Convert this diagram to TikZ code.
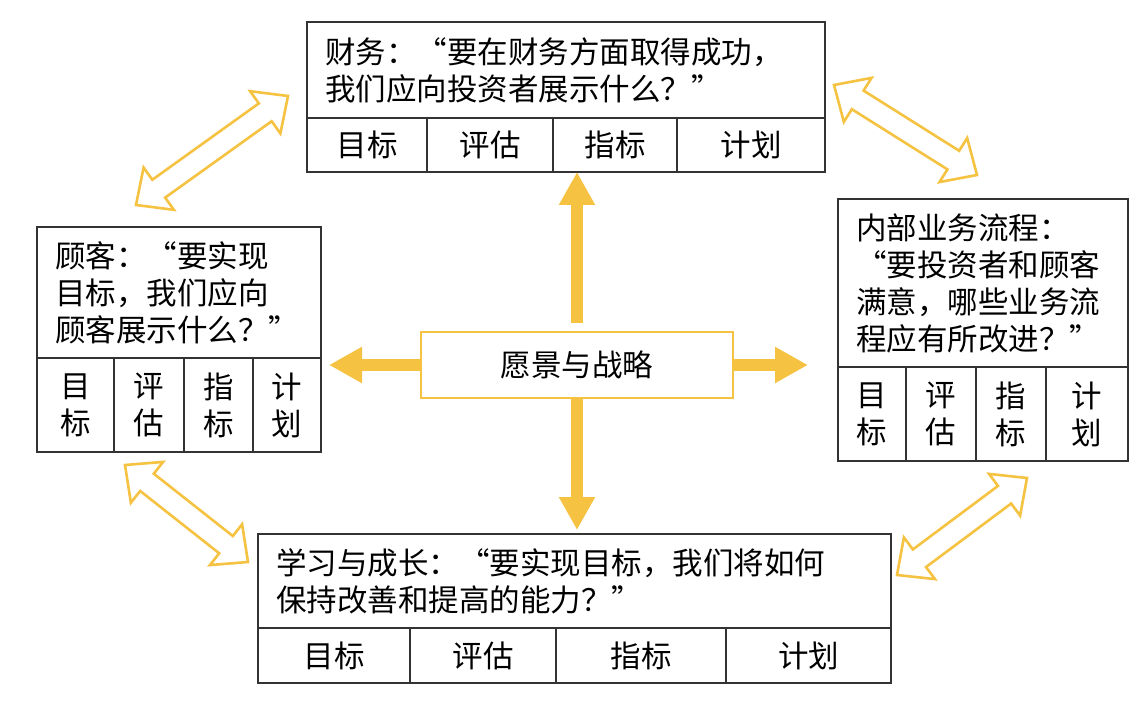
\documentclass[tikz,border=0pt]{standalone}
\usepackage{fontspec}
\setmainfont{Noto Sans CJK SC}[CharacterWidth=Full]
\usetikzlibrary{arrows.meta}
\usetikzlibrary{positioning}
\usetikzlibrary{calc}

\definecolor{bscyellow}{HTML}{F5C242}
\definecolor{boxline}{HTML}{333333}

\begin{document}
\begin{tikzpicture}[
        x=1pt, y=-1pt,
        every node/.style={font=\fontsize{30.5pt}{37pt}\selectfont, outer sep=0pt, inner sep=0pt},
        header/.style={rectangle, draw=boxline, line width=1.6pt, align=left, inner xsep=18pt, anchor=north west},
        cell/.style={rectangle, draw=boxline, line width=1.6pt, align=center},
        bigarrow/.style={-{Triangle[length=33pt, width=34pt]}, line width=12pt, draw=bscyellow},
        hollow/.style={draw=bscyellow, line width=2.6pt, fill=white, line join=miter,
            to path={
                -- ($(\tikztostart)!28pt!(\tikztotarget)!26pt!90:(\tikztotarget)$)
                -- ($(\tikztostart)!28pt!(\tikztotarget)!11pt!90:(\tikztotarget)$)
                -- ($(\tikztotarget)!28pt!(\tikztostart)!11pt!-90:(\tikztostart)$)
                -- ($(\tikztotarget)!28pt!(\tikztostart)!26pt!-90:(\tikztostart)$)
                -- (\tikztotarget)
                -- ($(\tikztotarget)!28pt!(\tikztostart)!26pt!90:(\tikztostart)$)
                -- ($(\tikztotarget)!28pt!(\tikztostart)!11pt!90:(\tikztostart)$)
                -- ($(\tikztostart)!28pt!(\tikztotarget)!11pt!-90:(\tikztotarget)$)
                -- ($(\tikztostart)!28pt!(\tikztotarget)!26pt!-90:(\tikztotarget)$)
                -- cycle}}
    ]
    \useasboundingbox (0,0) rectangle (1142,708);

    % Finance
    \node[header, text width=482pt, minimum height=96pt] (fin) at (307,22) {财务：“要在财务方面取得成功，\\我们应向投资者展示什么？”};
    \node[cell, minimum width=120pt, minimum height=54pt, below right=0pt and 0pt of fin.south west] (fin1) {目标};
    \node[cell, minimum width=126pt, minimum height=54pt, right=0pt of fin1] (fin2) {评估};
    \node[cell, minimum width=124pt, minimum height=54pt, right=0pt of fin2] (fin3) {指标};
    \node[cell, minimum width=148pt, minimum height=54pt, right=0pt of fin3] (fin4) {计划};

    % Customer
    \node[header, text width=248pt, minimum height=131pt] (cust) at (37,227) {顾客：“要实现\\目标，我们应向\\顾客展示什么？”};
    \node[cell, minimum width=77pt, minimum height=94pt, below right=0pt and 0pt of cust.south west] (cust1) {目\\标};
    \node[cell, minimum width=70pt, minimum height=94pt, right=0pt of cust1] (cust2) {评\\估};
    \node[cell, minimum width=69pt, minimum height=94pt, right=0pt of cust2] (cust3) {指\\标};
    \node[cell, minimum width=68pt, minimum height=94pt, right=0pt of cust3] (cust4) {计\\划};

    % Internal process
    \node[header, text width=254pt, minimum height=168pt] (proc) at (838,199) {内部业务流程：\\“要投资者和顾客\\满意，哪些业务流\\程应有所改进？”};
    \node[cell, minimum width=68pt, minimum height=94pt, below right=0pt and 0pt of proc.south west] (proc1) {目\\标};
    \node[cell, minimum width=70pt, minimum height=94pt, right=0pt of proc1] (proc2) {评\\估};
    \node[cell, minimum width=70pt, minimum height=94pt, right=0pt of proc2] (proc3) {指\\标};
    \node[cell, minimum width=82pt, minimum height=94pt, right=0pt of proc3] (proc4) {计\\划};

    % Learning and growth
    \node[header, text width=597pt, minimum height=94pt] (grow) at (258,534) {学习与成长：“要实现目标，我们将如何\\保持改善和提高的能力？”};
    \node[cell, minimum width=152pt, minimum height=55pt, below right=0pt and 0pt of grow.south west] (grow1) {目标};
    \node[cell, minimum width=146pt, minimum height=55pt, right=0pt of grow1] (grow2) {评估};
    \node[cell, minimum width=170pt, minimum height=55pt, right=0pt of grow2] (grow3) {指标};
    \node[cell, minimum width=165pt, minimum height=55pt, right=0pt of grow3] (grow4) {计划};

    % Vision and strategy
    \node[draw=bscyellow, line width=2pt, fill=white, minimum width=312pt, minimum height=66pt] (vision) at (577,365) {愿景与战略};

    % Arrows out of the centre
    \draw[bigarrow, shorten <=9pt] (vision.north) -- (vision.north |- fin3.south);
    \draw[bigarrow, shorten >=4pt] (vision.south) -- (vision.south |- grow.north);
    \draw[bigarrow, shorten >=8pt] (vision.west) -- (vision.west -| cust4.east);
    \draw[bigarrow, shorten >=30pt] (vision.east) -- (vision.east -| proc1.west);

    % Links between the perspectives
    \coordinate (custtop) at (136,205);
    \coordinate (finleft) at (288,96);
    \coordinate (finright) at (834,85);
    \coordinate (proctop) at (977,175);
    \coordinate (custbot) at (125,465);
    \coordinate (growleft) at (248,562);
    \coordinate (procbot) at (1027,478);
    \coordinate (growright) at (897,575);
    \draw[hollow] (custtop) to (finleft);
    \draw[hollow] (finright) to (proctop);
    \draw[hollow] (custbot) to (growleft);
    \draw[hollow] (procbot) to (growright);

\end{tikzpicture}
\end{document}
